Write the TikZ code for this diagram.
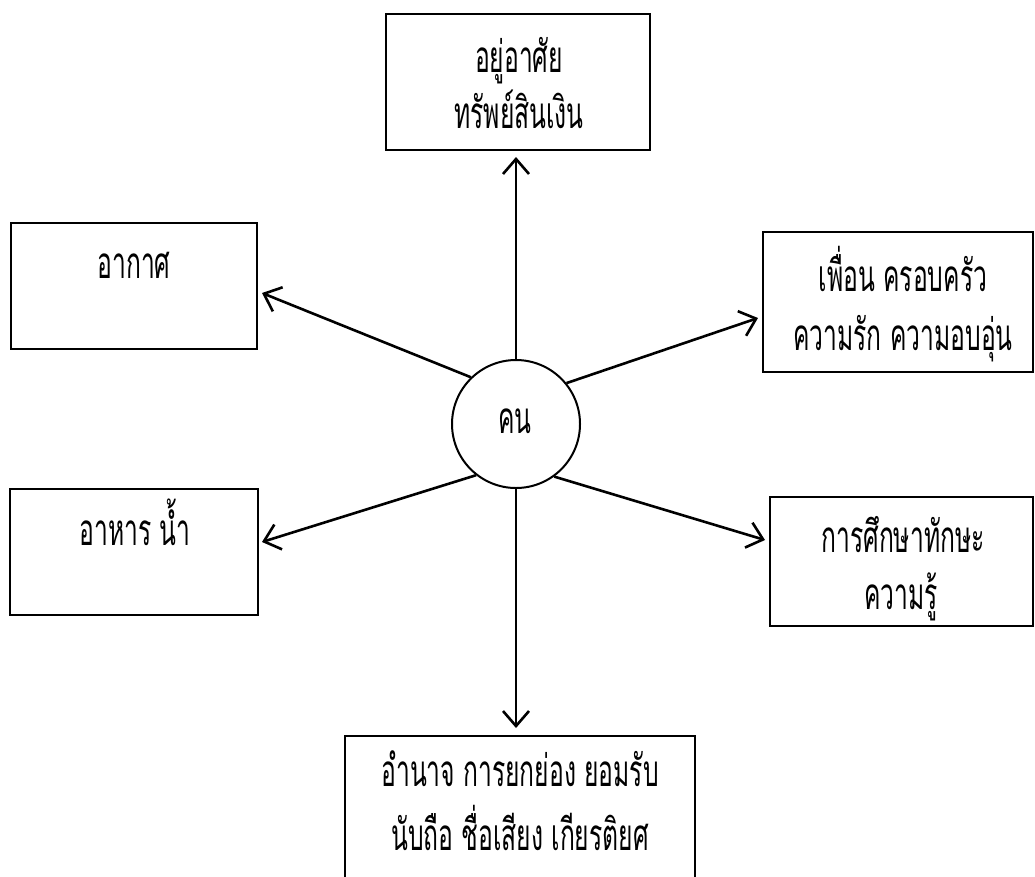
\documentclass[tikz,border=0pt]{standalone}
\usepackage{fontspec}
\newfontfamily\thaifont[Script=Thai,FakeStretch=0.56,WordSpace=1.0]{Loma}
\usetikzlibrary{arrows.meta}
\tikzset{
  box/.style={draw=black, line width=2pt, rectangle, inner sep=0pt},
  hub/.style={draw=black, line width=2pt, circle, inner sep=0pt, minimum size=128pt},
  lbl/.style={inner sep=0pt, anchor=base, font=\thaifont\fontsize{44}{48}\selectfont, text=black},
  link/.style={line width=2.6pt, -{Straight Barb[length=15pt,width=26pt,line width=2.6pt]}},
}
\begin{document}
\begin{tikzpicture}[x=1pt,y=-1pt]
  \useasboundingbox (0,0) rectangle (1035,876);
  \clip (0,0) rectangle (1035,876);
  \fill[white] (0,0) rectangle (1035,876);

  % central circle
  \node[hub] (c) at (516,424) {};
  \node[lbl] (c-t) at (515,433) {คน};

  % surrounding boxes, each label set on its own baseline
  \node[box, minimum width=264pt, minimum height=136pt] (home) at (518,82) {};
  \node[lbl] (home-a) at (519,72) {อยู่อาศัย};
  \node[lbl] (home-b) at (519,128) {ทรัพย์สินเงิน};

  \node[box, minimum width=246pt, minimum height=126pt] (air) at (134,286) {};
  \node[lbl] (air-a) at (134,278) {อากาศ};

  \node[box, minimum width=270pt, minimum height=140pt] (fam) at (898,302) {};
  \node[lbl] (fam-a) at (903,291) {เพื่อน ครอบครัว};
  \node[lbl] (fam-b) at (903,350) {ความรัก ความอบอุ่น};

  \node[box, minimum width=248pt, minimum height=126pt] (food) at (134,552) {};
  \node[lbl] (food-a) at (135,545) {อาหาร น้ำ};

  \node[box, minimum width=263pt, minimum height=129pt] (edu) at (901.5,561.5) {};
  \node[lbl] (edu-a) at (903,552) {การศึกษาทักษะ};
  \node[lbl] (edu-b) at (901,609) {ความรู้};

  \node[box, minimum width=350pt, minimum height=168pt] (fame) at (520,820) {};
  \node[lbl] (fame-a) at (520,786) {อำนาจ การยกย่อง ยอมรับ};
  \node[lbl] (fame-b) at (520,850) {นับถือ ชื่อเสียง เกียรติยศ};

  % arrow tips stop just short of each box
  \coordinate (t-home) at (516,157);
  \coordinate (t-air) at (262,293);
  \coordinate (t-fam) at (758,318);
  \coordinate (t-food) at (262,542);
  \coordinate (t-edu) at (765,540);
  \coordinate (t-fame) at (516,728);

  \draw[link] (c.90) -- (t-home);
  \draw[link] (c.134) -- (t-air);
  \draw[link] (c.39) -- (t-fam);
  \draw[link] (c.232) -- (t-food);
  \draw[link] (c.-54) -- (t-edu);
  \draw[link] (c.-90) -- (t-fame);
\end{tikzpicture}
\end{document}
